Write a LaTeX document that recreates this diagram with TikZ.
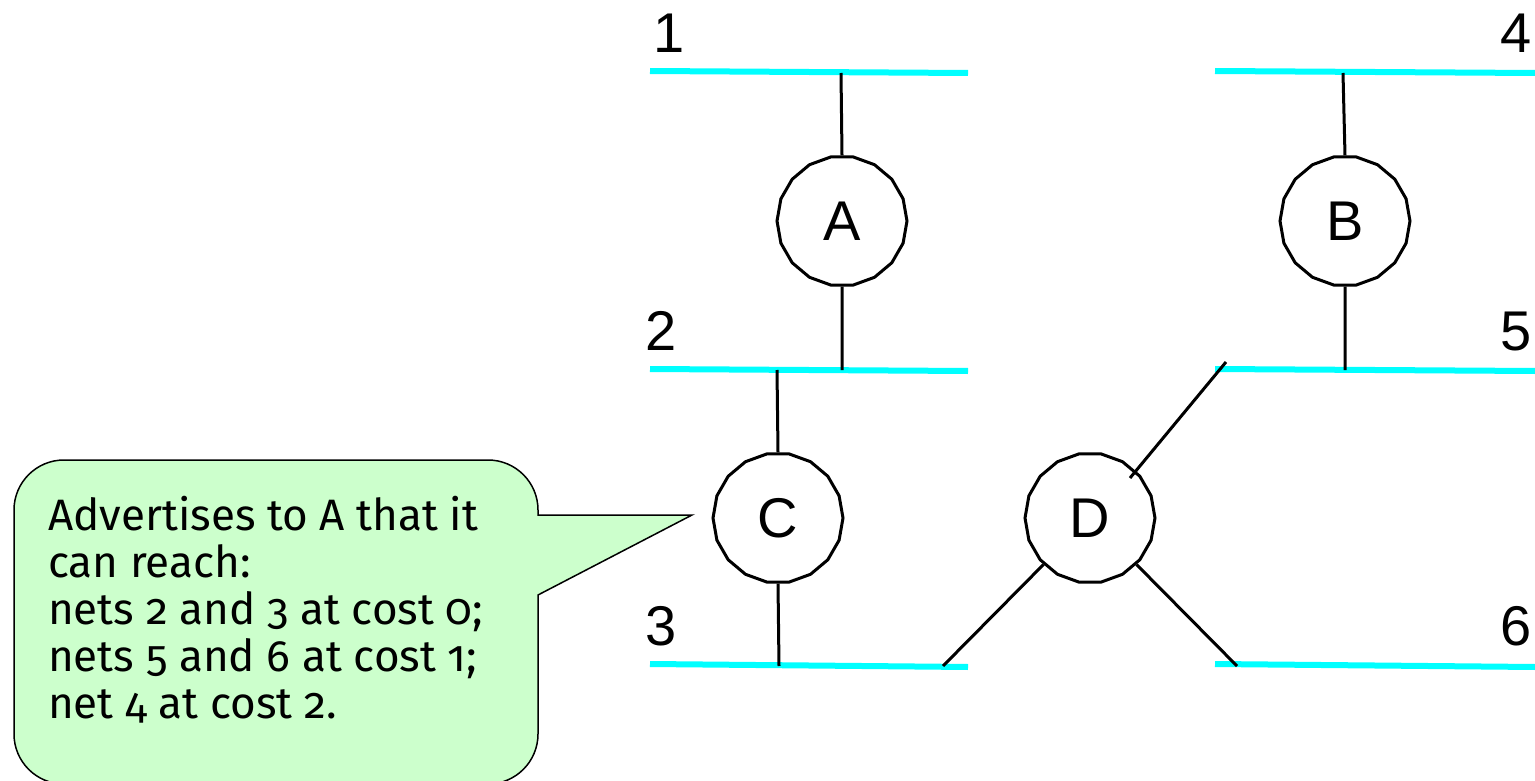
\documentclass[tikz,border=0pt]{standalone}
\usepackage{fontspec}
\setmainfont{Liberation Sans}
\newfontfamily\calloutfont[Numbers=OldStyle]{Fira Sans}
\usetikzlibrary{shapes.geometric,calc}
\definecolor{netcyan}{RGB}{0,255,255}
\definecolor{notegreen}{RGB}{204,255,204}
\tikzset{
  net/.style={draw=netcyan,line width=6pt},
  link/.style={draw=black,line width=3pt},
  router/.style={regular polygon,regular polygon sides=18,draw=black,line width=3pt,
    fill=white,minimum size=130pt,inner sep=0pt,font=\fontsize{56}{60}\selectfont},
  netlabel/.style={inner sep=0pt,font=\fontsize{56}{60}\selectfont},
  note/.style={draw=black,line width=1.5pt,fill=notegreen}
}
\begin{document}
\begin{tikzpicture}[x=1pt,y=-1pt]
\useasboundingbox (0,0) rectangle (1535,781);

% networks (cyan segments)
\draw[net] (650,71) coordinate (n1l) -- (968,73) coordinate (n1r);
\draw[net] (650,369) coordinate (n2l) -- (968,371) coordinate (n2r);
\draw[net] (650,664) coordinate (n3l) -- (968,667) coordinate (n3r);
\draw[net] (1215,71) coordinate (n4l) -- (1535,73) coordinate (n4r);
\draw[net] (1215,369) coordinate (n5l) -- (1535,371) coordinate (n5r);
\draw[net] (1215,664) coordinate (n6l) -- (1535,667) coordinate (n6r);

% network numbers
\node[netlabel,anchor=base west] (l1) at (653,53) {1};
\node[netlabel,anchor=base west] (l2) at (645,350) {2};
\node[netlabel,anchor=base west] (l3) at (645,645) {3};
\node[netlabel,anchor=base east] (l4) at (1532,53) {4};
\node[netlabel,anchor=base east] (l5) at (1532,350) {5};
\node[netlabel,anchor=base east] (l6) at (1532,645) {6};

% routers
\node[router] (A) at (842,221) {A};
\node[router] (B) at (1345,221) {B};
\node[router] (C) at (778,518) {C};
\node[router] (D) at (1090,518) {D};

% attachment points on the networks
\coordinate (a1) at (841,73);
\coordinate (a2) at (842,370);
\coordinate (b4) at (1343,73);
\coordinate (b5) at (1345,370);
\coordinate (c2) at (777,370);
\coordinate (c3) at (779,666);
\coordinate (d3) at (943,666);
\coordinate (d5) at (1226,362);
\coordinate (d5in) at (1130,478);
\coordinate (d6) at (1237,666);

% links
\draw[link] (a1) -- (A.north);
\draw[link] (A.south) -- (a2);
\draw[link] (b4) -- (B.north);
\draw[link] (B.south) -- (b5);
\draw[link] (c2) -- (C.north);
\draw[link] (C.south) -- (c3);
\draw[link] (d3) -- (D.225);
\draw[link] (D.-45) -- (d6);
\draw[link] (d5) -- (d5in);

% callout balloon pointing at C
\coordinate (tip) at (692,515);
\draw[note] (538,595) -- (538,734)
  arc[start angle=0,end angle=90,radius=50] -- (64,784)
  arc[start angle=90,end angle=180,radius=50] -- (14,510)
  arc[start angle=180,end angle=270,radius=50] -- (488,460)
  arc[start angle=270,end angle=360,radius=50] -- (538,515) -- (tip) -- cycle;
\node[anchor=north west,inner sep=0pt,align=left,
  font=\calloutfont\fontsize{44}{47}\selectfont] (msg) at (48,496)
  {Advertises to A that it\\can reach:\\nets 2 and 3 at cost 0;\\nets 5 and 6 at cost 1;\\net 4 at cost 2.};
\end{tikzpicture}
\end{document}
